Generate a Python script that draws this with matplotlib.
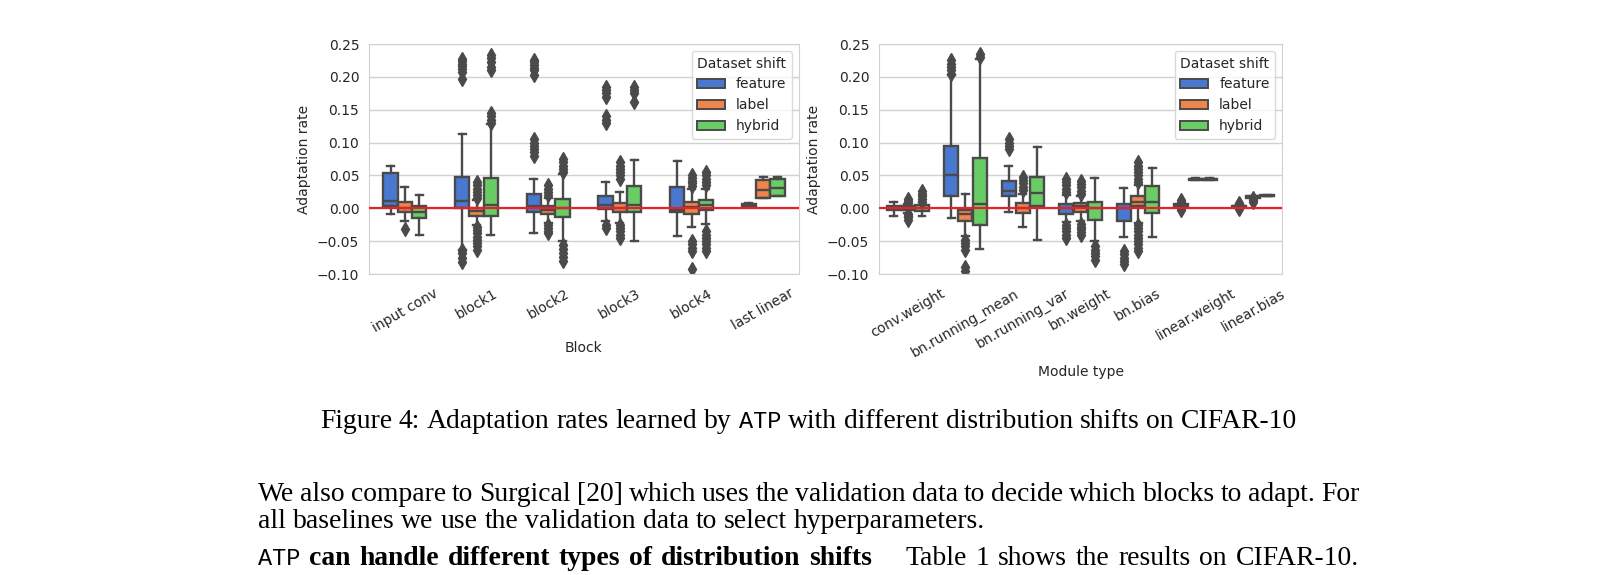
import numpy as np
import matplotlib
matplotlib.use('Agg')
import matplotlib.pyplot as plt
from matplotlib.patches import Patch

hues = ['feature', 'label', 'hybrid']
colors = ['#4878d0', '#ee854a', '#6acc64']
gray = '#4a4a4a'

# --- left panel: adaptation rate per block ---
blocks = ['input conv', 'block1', 'block2', 'block3', 'block4', 'last linear']
blk_med = {'feature': [0.011, 0.011, 0.004, 0.005, -0.002, 0.005],
           'label':   [0.001, -0.004, -0.003, 0.001, 0.002, 0.028],
           'hybrid':  [-0.006, 0.005, 0.0, 0.005, 0.005, 0.031]}
blk_q1 = {'feature': [0.003, 0.0, -0.005, -0.001, -0.006, 0.003],
          'label':   [-0.005, -0.011, -0.009, -0.006, -0.008, 0.016],
          'hybrid':  [-0.015, -0.011, -0.014, -0.005, -0.003, 0.019]}
blk_q3 = {'feature': [0.053, 0.047, 0.021, 0.019, 0.032, 0.007],
          'label':   [0.010, 0.0, 0.003, 0.008, 0.009, 0.043],
          'hybrid':  [0.004, 0.046, 0.014, 0.034, 0.013, 0.044]}
blk_lo = {'feature': [-0.008, -0.063, -0.038, -0.020, -0.042, 0.002],
          'label':   [-0.019, -0.025, -0.022, -0.022, -0.029, 0.016],
          'hybrid':  [-0.040, -0.040, -0.050, -0.050, -0.024, 0.018]}
blk_hi = {'feature': [0.064, 0.113, 0.044, 0.040, 0.072, 0.008],
          'label':   [0.032, 0.012, 0.016, 0.025, 0.030, 0.047],
          'hybrid':  [0.020, 0.128, 0.052, 0.074, 0.030, 0.047]}
blk_fliers = {
    'feature': [[],
                [0.197, 0.208, 0.212, 0.216, 0.220, 0.224, 0.227, -0.064, -0.068, -0.076, -0.082],
                [0.203, 0.210, 0.214, 0.218, 0.222, 0.226, 0.080, 0.085, 0.090, 0.095, 0.100, 0.105],
                [0.170, 0.175, 0.180, 0.185, 0.130, 0.135, 0.140, -0.025, -0.030],
                [], []],
    'label': [[-0.031],
              [0.016, 0.020, 0.025, 0.030, 0.035, 0.040, -0.028, -0.033, -0.038, -0.043, -0.048, -0.053, -0.058, -0.064],
              [0.020, 0.025, 0.030, 0.035, -0.026, -0.030, -0.034, -0.038],
              [0.045, 0.050, 0.055, 0.060, 0.065, 0.070, -0.026, -0.030, -0.035, -0.040, -0.045],
              [0.034, 0.038, 0.042, 0.046, 0.050, -0.050, -0.055, -0.060, -0.065, -0.092],
              []],
    'hybrid': [[],
               [0.130, 0.135, 0.140, 0.145, 0.210, 0.215, 0.222, 0.228, 0.234],
               [0.055, 0.060, 0.065, 0.070, 0.075, -0.056, -0.062, -0.068, -0.074, -0.080],
               [0.162, 0.175, 0.180, 0.185],
               [0.035, 0.040, 0.045, 0.050, 0.055, -0.035, -0.040, -0.045, -0.050, -0.055, -0.060, -0.065],
               []]}

# --- right panel: adaptation rate per module type ---
modules = ['conv.weight', 'bn.running_mean', 'bn.running_var', 'bn.weight',
           'bn.bias', 'linear.weight', 'linear.bias']
mod_med = {'feature': [0.0, 0.051, 0.026, 0.0, 0.0, 0.005, 0.003],
           'label':   [0.0005, -0.008, 0.0, 0.003, 0.009, 0.044, 0.017],
           'hybrid':  [0.0, 0.006, 0.024, 0.0, 0.009, 0.044, 0.019]}
mod_q1 = {'feature': [-0.003, 0.019, 0.019, -0.008, -0.020, 0.004, 0.002],
          'label':   [-0.003, -0.020, -0.007, -0.006, 0.003, 0.0435, 0.016],
          'hybrid':  [-0.004, -0.026, 0.003, -0.018, -0.007, 0.0435, 0.0185]}
mod_q3 = {'feature': [0.004, 0.095, 0.042, 0.006, 0.006, 0.006, 0.004],
          'label':   [0.004, -0.003, 0.008, 0.008, 0.019, 0.045, 0.018],
          'hybrid':  [0.005, 0.076, 0.048, 0.010, 0.034, 0.045, 0.020]}
mod_lo = {'feature': [-0.011, -0.015, -0.005, -0.021, -0.044, 0.0035, 0.0015],
          'label':   [-0.007, -0.042, -0.029, -0.020, -0.022, 0.043, 0.0155],
          'hybrid':  [-0.012, -0.062, -0.048, -0.050, -0.044, 0.043, 0.018]}
mod_hi = {'feature': [0.009, 0.203, 0.065, 0.020, 0.031, 0.0065, 0.0045],
          'label':   [0.007, 0.021, 0.022, 0.018, 0.035, 0.0455, 0.0185],
          'hybrid':  [0.009, 0.227, 0.093, 0.046, 0.062, 0.0455, 0.0205]}
mod_fliers = {
    'feature': [[],
                [0.205, 0.210, 0.215, 0.220, 0.225],
                [0.090, 0.095, 0.100, 0.105],
                [0.025, 0.030, 0.035, 0.040, 0.045, -0.025, -0.030, -0.035, -0.040, -0.045],
                [-0.065, -0.070, -0.075, -0.080, -0.085],
                [-0.002, 0.0, 0.002, 0.008, 0.010, 0.012],
                [-0.001, 0.001, 0.006, 0.008]],
    'label': [[0.008, 0.011, 0.014, -0.008, -0.011, -0.014, -0.018],
              [-0.048, -0.053, -0.058, -0.063, -0.090, -0.095],
              [0.028, 0.033, 0.038, 0.043, 0.048],
              [0.022, 0.027, 0.032, 0.037, 0.042, -0.024, -0.028, -0.032, -0.036, -0.040],
              [0.040, 0.045, 0.050, 0.055, 0.060, 0.065, 0.070,
               -0.025, -0.030, -0.035, -0.040, -0.045, -0.050, -0.055, -0.060, -0.065],
              [],
              [0.010, 0.013, 0.016]],
    'hybrid': [[0.010, 0.014, 0.018, 0.022, 0.026],
               [0.230, 0.235],
               [],
               [-0.058, -0.063, -0.068, -0.073, -0.078],
               [], [], []]}

# page text around the figure
caption = [('Figure 4: Adaptation rates learned by', 'rm'), ('ATP', 'tt'),
           ('with different distribution shifts on CIFAR-10', 'rm')]
body1 = [('We also compare to Surgical [20] which uses the validation data to decide which blocks to adapt. For', 'rm')]
body2 = [('all baselines we use the validation data to select hyperparameters.', 'rm')]
body3 = [('ATP', 'tt'), ('can handle different types of distribution shifts', 'bf'), ('~quad', 'rm'),
         ('Table 1 shows the results on CIFAR-10.', 'rm')]

W, H = 1618, 575
plt.rcParams['font.family'] = 'DejaVu Sans'
plt.rcParams['text.color'] = '.15'
plt.rcParams['axes.labelcolor'] = '.15'
plt.rcParams['xtick.color'] = '.15'
plt.rcParams['ytick.color'] = '.15'

fig = plt.figure(figsize=(W / 100, H / 100), dpi=100)


def draw_panel(rect, cats, med, q1, q3, lo, hi, fliers, width, xlabel):
    ax = fig.add_axes([rect[0] / W, 1 - rect[3] / H, (rect[2] - rect[0]) / W, (rect[3] - rect[1]) / H])
    step = width / len(hues)
    for k, h in enumerate(hues):
        stats = [dict(med=med[h][i], q1=q1[h][i], q3=q3[h][i],
                      whislo=lo[h][i], whishi=hi[h][i], fliers=fliers[h][i])
                 for i in range(len(cats))]
        pos = np.arange(len(cats)) + (k - 1) * step
        ax.bxp(stats, positions=pos, widths=step * 0.98, capwidths=step * 0.49,
               patch_artist=True, manage_ticks=False,
               boxprops=dict(facecolor=colors[k], edgecolor=gray, linewidth=1.7),
               medianprops=dict(color=gray, linewidth=1.7),
               whiskerprops=dict(color=gray, linewidth=1.7),
               capprops=dict(color=gray, linewidth=1.7),
               flierprops=dict(marker='d', markerfacecolor=gray, markeredgecolor=gray, markersize=7))
    ax.axhline(0, color='#e8202a', linewidth=1.6, zorder=5)
    ax.set_xlim(-0.5, len(cats) - 0.5)
    ax.set_ylim(-0.1, 0.25)
    ax.set_yticks(np.arange(-0.10, 0.26, 0.05))
    ax.set_xticks(range(len(cats)))
    ax.set_xticklabels(cats, rotation=30, fontsize=10)
    ax.tick_params(axis='y', labelsize=10, length=0, pad=7)
    ax.tick_params(axis='x', length=0, pad=9)
    ax.grid(axis='y', color='.82', linewidth=1)
    ax.set_axisbelow(True)
    for s in ax.spines.values():
        s.set_color('.82')
    ax.set_xlabel(xlabel, fontsize=10)
    ax.set_ylabel('Adaptation rate', fontsize=10)
    handles = [Patch(facecolor=c, edgecolor=gray, linewidth=1.4, label=h) for c, h in zip(colors, hues)]
    ax.legend(handles=handles, title='Dataset shift', loc='upper right', fontsize=10, title_fontsize=10,
              edgecolor='.82')
    return ax


draw_panel((369, 44, 799, 274), blocks, blk_med, blk_q1, blk_q3, blk_lo, blk_hi, blk_fliers, 0.6, 'Block')
draw_panel((879, 44, 1282, 274), modules, mod_med, mod_q1, mod_q3, mod_lo, mod_hi, mod_fliers, 0.74, 'Module type')

# --- caption and body text, laid out word by word ---
styles = {'rm': dict(family='Liberation Serif'),
          'bf': dict(family='Liberation Serif', weight='bold'),
          'tt': dict(family='Liberation Mono')}
scale = {'rm': 1.0, 'bf': 1.0, 'tt': 0.85}
renderer = fig.canvas.get_renderer()


def make_words(runs, y, fs):
    items = []
    for text, st in runs:
        for w in text.split():
            if w == '~quad':
                items.append((None, 0.6 * fs * 100 / 72))
                continue
            t = fig.text(0, 1 - y / H, w, va='baseline', ha='left', color='black',
                         fontsize=fs * scale[st], **styles[st])
            items.append((t, t.get_window_extent(renderer).width))
    return items


def natural_width(items, fs):
    return sum(wd for _, wd in items) + 0.25 * fs * 100 / 72 * (len(items) - 1)


def place(items, x, gap):
    for t, wd in items:
        if t is not None:
            t.set_x(x / W)
        x += wd + gap


# font size chosen so the caption spans the same width as on the page
probe = make_words(caption, 0, 16)
fs = 16 * (1292 - 316) / natural_width(probe, 16)
for t, _ in probe:
    t.remove()
space = 0.25 * fs * 100 / 72

cap = make_words(caption, 428, fs)
place(cap, 808.5 - natural_width(cap, fs) / 2, space)
for runs, y, just in [(body1, 501, True), (body2, 528, False), (body3, 565, True)]:
    items = make_words(runs, y, fs)
    gap = space
    if just:
        gap = (1359 - 258 - sum(wd for _, wd in items)) / (len(items) - 1)
    place(items, 258, gap)

fig.savefig('out.png', dpi=100)
